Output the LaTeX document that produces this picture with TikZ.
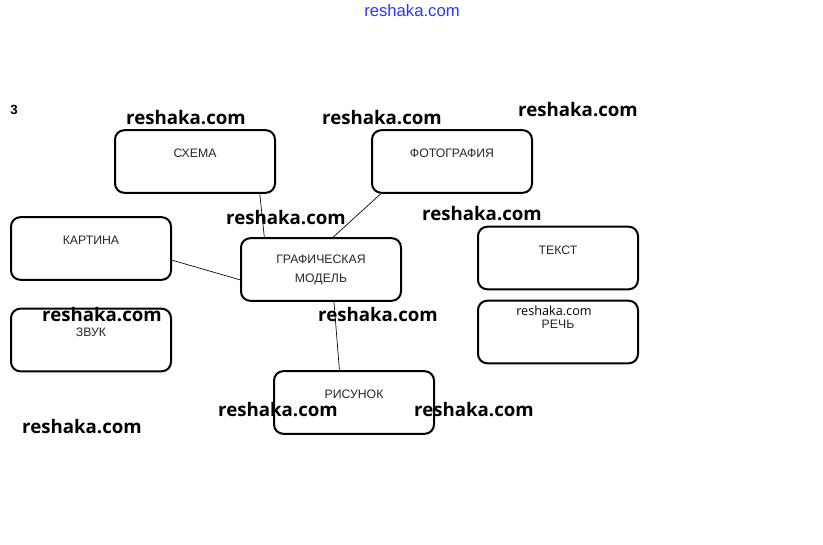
\documentclass[tikz,border=0pt]{standalone}
\usepackage{fontspec}
\setmainfont{Liberation Sans}
\newfontfamily\wmfont{Open Sans}
\usetikzlibrary{positioning, calc}

\tikzset{
  box/.style={draw, rounded corners=7pt, line width=1.5pt, minimum width=120pt,
    minimum height=47pt, text depth=12pt, text=black!85, font=\fontsize{9.2}{11}\selectfont},
  wm/.style={font=\wmfont\bfseries\fontsize{14}{16}\selectfont},
  link/.style={line width=0.5pt}
}

\begin{document}
\begin{tikzpicture}[x=0.75pt, y=-0.75pt]
    \useasboundingbox (0,0) rectangle (823,545);

    % ================= Boxes =================
    \node[box] (scheme) at (195,161.5) {СХЕМА};
    \node[box] (photo) at (452,161.5) {ФОТОГРАФИЯ};
    \node[box] (painting) at (91,248.5) {КАРТИНА};
    \node[box, text depth=1pt, align=center] (model) at (321,269.5) {ГРАФИЧЕСКАЯ\\[3.5pt]МОДЕЛЬ};
    \node[box] (sound) at (91,340) {ЗВУК};
    \node[box] (drawing) at (354,402.5) {РИСУНОК};
    \node[box] (text) at (558,258) {ТЕКСТ};
    \node[box] (speech) at (558,332) {РЕЧЬ};

    % ================= Links =================
    \draw[link] ($(scheme.south west)!0.9!(scheme.south east)$) -- ($(model.north west)!0.15!(model.north east)$);
    \draw[link] ($(photo.south west)!0.06!(photo.south east)$) -- ($(model.north west)!0.575!(model.north east)$);
    \draw[link] ($(painting.north east)!0.68!(painting.south east)$) -- ($(model.north west)!0.66!(model.south west)$);
    \draw[link] ($(model.south west)!0.58!(model.south east)$) -- ($(drawing.north west)!0.41!(drawing.north east)$);

    % ================= Marks =================
    \node[font=\bfseries\fontsize{10}{12}\selectfont] (num) at (14,110) {3};
    \node[text=blue!80, font=\fontsize{12.5}{14}\selectfont] (site) at (412,11) {reshaka.com};
    \foreach \x/\y [count=\i] in {186/118, 382/118, 578/110, 286/218, 482/214,
                                  102/315, 378/315, 278/410, 474/410, 82/427}
        \node[wm] (wm\i) at (\x,\y) {reshaka.com};
    \node[font=\wmfont\fontsize{9.5}{11}\selectfont] (wmsmall) at (554,311) {reshaka.com};

\end{tikzpicture}
\end{document}
